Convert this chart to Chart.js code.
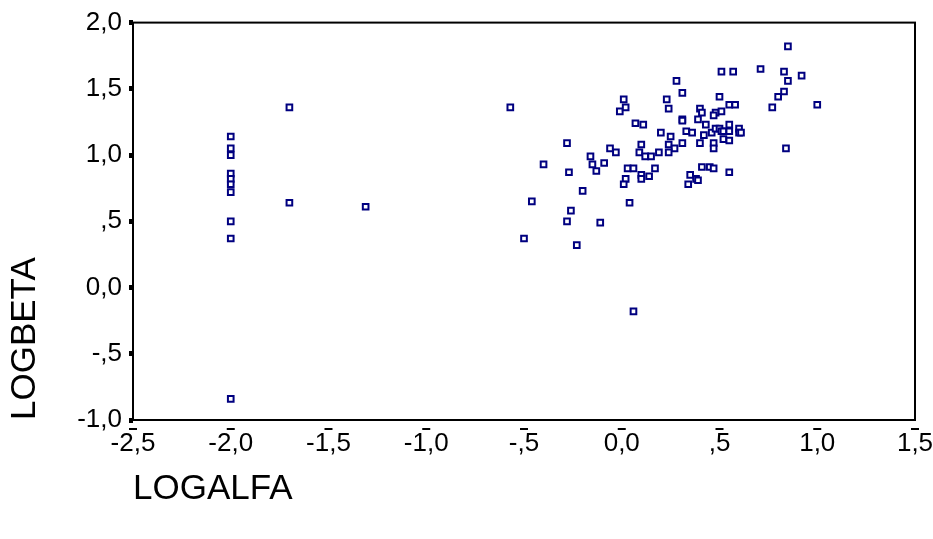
<!DOCTYPE html>
<html><head><meta charset="utf-8">
<script src="https://cdn.jsdelivr.net/npm/chart.js@4.4.0/dist/chart.umd.min.js"></script>
<style>html,body{margin:0;padding:0;background:#fff}#wrap{width:933px;height:539px}</style>
</head><body><div id="wrap"><canvas id="c" width="933" height="539"></canvas></div>
<script>
const logalfa = [
  -2.00,-2.00,-2.00,-2.00,-2.00,-2.00,-2.00,-2.00,-2.00,-2.00,
  -1.70,-1.70,-1.31,-0.57,
  0.01,-0.01,0.02,0.28,0.31,0.23,0.24,0.40,0.41,0.31,
  0.31,0.39,0.43,0.07,0.11,0.20,0.25,0.33,0.36,0.42,
  0.40,0.31,0.24,0.27,0.19,0.24,0.10,0.09,0.12,0.15,
  -0.28,-0.06,-0.03,-0.16,-0.15,-0.09,-0.13,-0.40,-0.27,0.03,
  0.06,0.17,0.02,0.10,0.10,0.14,0.35,0.38,0.39,0.41,
  0.45,0.47,0.55,0.01,0.34,-0.20,-0.46,0.04,-0.26,-0.28,
  -0.11,-0.50,-0.23,0.06,
  0.85,0.51,0.57,0.71,0.83,0.92,0.85,0.83,0.80,0.77,
  1.00,0.84,0.50,0.55,0.58,0.48,0.47,0.51,0.55,0.46,
  0.48,0.50,0.51,0.52,0.55,0.60,0.60,0.61,0.47,0.47,
  0.52,0.55
];
const logbeta = [
  1.14,1.05,1.00,0.86,0.82,0.78,0.72,0.50,0.37,-0.84,
  1.36,0.64,0.61,1.36,
  1.42,1.33,1.36,1.56,1.47,1.42,1.35,1.35,1.32,1.27,
  1.26,1.27,1.23,1.24,1.23,1.17,1.14,1.18,1.17,1.15,
  1.09,1.09,1.08,1.05,1.02,1.02,1.08,1.02,0.99,0.99,
  1.09,1.05,1.02,0.99,0.93,0.94,0.88,0.93,0.87,0.90,
  0.90,0.90,0.82,0.85,0.82,0.84,0.85,0.82,0.81,0.91,
  0.91,0.90,0.87,0.78,0.78,0.73,0.65,0.64,0.58,0.50,
  0.49,0.37,0.32,-0.18,
  1.82,1.63,1.63,1.65,1.63,1.60,1.56,1.48,1.44,1.36,
  1.38,1.05,1.44,1.38,1.38,1.32,1.30,1.33,1.23,1.17,
  1.20,1.20,1.18,1.18,1.18,1.20,1.17,1.17,1.09,1.05,
  1.12,1.11
];
const xTickValues = [-2.5,-2.0,-1.5,-1.0,-0.5,0.0,0.5,1.0,1.5];
const xTickLabels = ['-2,5','-2,0','-1,5','-1,0','-,5','0,0',',5','1,0','1,5'];
const yTickValues = [-1.0,-0.5,0.0,0.5,1.0,1.5,2.0];
const yTickLabels = ['-1,0','-,5','0,0',',5','1,0','1,5','2,0'];
const xTitle = 'LOGALFA';
const yTitle = 'LOGBETA';

const points = logalfa.map((x,i)=>({x:x, y:logbeta[i]}));
function lookup(vals, labels, v){
  const i = vals.findIndex(t=>Math.abs(t-v)<1e-6);
  return i>=0 ? labels[i] : '';
}
const FONT = "'Liberation Sans', Arial, sans-serif";

const framePlugin = {
  id:'frame',
  afterDraw(chart){
    const {ctx, chartArea:a} = chart;
    ctx.save();
    ctx.strokeStyle = '#000';
    ctx.lineWidth = 2;
    ctx.strokeRect(a.left, a.top, a.right-a.left, a.bottom-a.top);
    const xs = chart.scales.x;
    ctx.lineWidth = 2;
    xs.ticks.forEach((t,i)=>{
      const px = xs.getPixelForTick(i);
      ctx.beginPath();
      ctx.moveTo(px-4, a.bottom+9);
      ctx.lineTo(px+4, a.bottom+9);
      ctx.stroke();
    });
    ctx.restore();
  }
};

new Chart(document.getElementById('c'), {
  type:'scatter',
  data:{datasets:[{
    data:points,
    pointStyle:'rect',
    pointRadius:4,
    pointBorderWidth:2,
    pointBorderColor:'#000080',
    pointBackgroundColor:'#ffffff',
    clip:false
  }]},
  options:{
    responsive:false,
    animation:false,
    events:[],
    layout:{padding:{top:20,right:0,left:0,bottom:0}},
    plugins:{legend:{display:false},tooltip:{enabled:false}},
    scales:{
      x:{
        type:'linear', min:-2.5, max:1.5,
        afterBuildTicks(s){ s.ticks = xTickValues.map(v=>({value:v})); },
        afterFit(s){ s.height = 119; s.paddingLeft = 0; s.paddingRight = 18; },
        grid:{display:false, drawTicks:false},
        border:{display:false},
        ticks:{color:'#000', font:{family:FONT, size:26}, padding:8, maxRotation:0, autoSkip:false,
          callback:(v)=>lookup(xTickValues,xTickLabels,v)},
        title:{display:true, text:xTitle, align:'start', color:'#000',
          font:{family:FONT, size:35}, padding:{top:0,bottom:29}}
      },
      y:{
        type:'linear', min:-1, max:2,
        afterBuildTicks(s){ s.ticks = yTickValues.map(v=>({value:v})); },
        afterFit(s){ s.width = 133; },
        grid:{display:true, drawOnChartArea:false, drawTicks:true, tickLength:4, tickWidth:5, tickColor:'#000'},
        border:{display:false},
        ticks:{color:'#000', font:{family:FONT, size:26}, padding:7, autoSkip:false,
          callback:(v)=>lookup(yTickValues,yTickLabels,v)},
        title:{display:true, text:yTitle, align:'start', color:'#000',
          font:{family:FONT, size:35}, padding:{top:4,bottom:0}}
      }
    }
  },
  plugins:[framePlugin]
});
</script>
</body></html>
